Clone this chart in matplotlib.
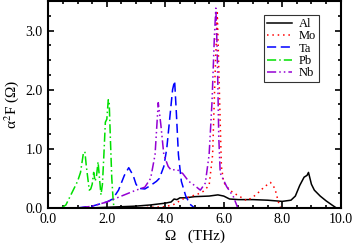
import matplotlib
matplotlib.use("Agg")
import matplotlib.pyplot as plt
from matplotlib.ticker import MultipleLocator, FormatStrFormatter

plt.rcParams['font.family'] = ['Liberation Serif', 'DejaVu Serif']
plt.rcParams['mathtext.fontset'] = 'stix'

al_x = [1.5, 2.0, 2.5, 3.0, 3.5, 4.0, 4.2, 4.3, 4.4, 4.5, 4.7, 5.0, 5.5, 5.8, 6.0, 6.2, 6.5, 7.0, 7.5, 8.0, 8.3, 8.45, 8.6, 8.75, 8.85, 8.9, 9.0, 9.1, 9.3, 9.5, 9.7, 9.85]
al_y = [0.0, 0.01, 0.02, 0.03, 0.05, 0.08, 0.1, 0.15, 0.14, 0.17, 0.17, 0.19, 0.2, 0.22, 0.2, 0.15, 0.14, 0.14, 0.13, 0.11, 0.13, 0.2, 0.38, 0.52, 0.55, 0.6, 0.4, 0.3, 0.2, 0.12, 0.05, 0.0]

mo_x = [3.0, 3.5, 4.0, 4.3, 4.6, 4.9, 5.1, 5.3, 5.5, 5.62, 5.7, 5.78, 5.85, 5.92, 6.0, 6.2, 6.45, 6.8, 7.1, 7.4, 7.6, 7.75, 7.87, 7.95]
mo_y = [0.0, 0.01, 0.02, 0.06, 0.15, 0.2, 0.23, 0.28, 0.38, 0.9, 2.2, 3.3, 2.0, 0.7, 0.43, 0.3, 0.22, 0.12, 0.22, 0.36, 0.43, 0.33, 0.1, 0.0]

ta_x = [1.0, 1.5, 2.0, 2.2, 2.4, 2.6, 2.75, 2.9, 3.0, 3.1, 3.3, 3.5, 3.7, 3.8, 3.95, 4.05, 4.15, 4.25, 4.32, 4.38, 4.45, 4.55, 4.7, 4.85, 5.0]
ta_y = [0.0, 0.03, 0.1, 0.15, 0.3, 0.55, 0.68, 0.55, 0.4, 0.33, 0.32, 0.38, 0.45, 0.5, 0.7, 1.0, 1.5, 2.0, 2.15, 1.6, 0.9, 0.45, 0.2, 0.06, 0.0]

pb_x = [0.45, 0.6, 0.8, 1.0, 1.1, 1.2, 1.25, 1.3, 1.4, 1.45, 1.5, 1.55, 1.6, 1.65, 1.7, 1.75, 1.8, 1.85, 1.9, 1.95, 2.0, 2.05, 2.08, 2.12, 2.17, 2.22, 2.25]
pb_y = [0.0, 0.05, 0.25, 0.45, 0.6, 0.93, 0.95, 0.7, 0.3, 0.32, 0.4, 0.6, 0.45, 0.55, 0.78, 0.5, 0.22, 0.4, 0.9, 1.45, 1.5, 1.83, 1.8, 1.2, 0.5, 0.1, 0.0]

nb_x = [1.1, 1.5, 2.0, 2.5, 3.0, 3.3, 3.5, 3.65, 3.76, 3.85, 3.95, 4.1, 4.2, 4.4, 4.6, 4.8, 5.0, 5.2, 5.37, 5.5, 5.6, 5.68, 5.73, 5.78, 5.83, 5.88, 6.1, 6.33, 6.48]
nb_y = [0.0, 0.03, 0.1, 0.2, 0.3, 0.35, 0.5, 0.9, 1.78, 1.4, 0.9, 0.7, 0.64, 0.65, 0.58, 0.45, 0.38, 0.3, 0.42, 0.9, 1.8, 2.9, 3.38, 2.6, 1.2, 0.59, 0.36, 0.19, 0.0]

fig = plt.figure(figsize=(3.53, 2.44), dpi=100)
ax = fig.add_axes([0.137, 0.148, 0.828, 0.848])

ax.plot(al_x, al_y, color='black', lw=1.1, ls='-', label='Al')
ax.plot(mo_x, mo_y, color='red', lw=1.1, ls=(0, (1, 2.5)), label='Mo')
ax.plot(ta_x, ta_y, color='blue', lw=1.1, ls=(0, (6, 3)), label='Ta')
ax.plot(pb_x, pb_y, color='#00e000', lw=1.1, ls=(0, (6, 2, 1, 2)), label='Pb')
ax.plot(nb_x, nb_y, color='#9400d3', lw=1.1, ls=(0, (6, 2, 1, 2, 1, 2)), label='Nb')

ax.set_xlim(0, 10)
ax.set_ylim(0, 3.5)
ax.xaxis.set_major_locator(MultipleLocator(2))
ax.xaxis.set_minor_locator(MultipleLocator(0.5))
ax.yaxis.set_major_locator(MultipleLocator(1))
ax.yaxis.set_minor_locator(MultipleLocator(0.25))
ax.xaxis.set_major_formatter(FormatStrFormatter('%.1f'))
ax.yaxis.set_major_formatter(FormatStrFormatter('%.1f'))
ax.tick_params(which='both', direction='in', top=True, right=True, labelsize=10, width=1.2, pad=4)
ax.tick_params(which='major', length=4.5)
ax.tick_params(which='minor', length=2.5)
for s in ax.spines.values():
    s.set_linewidth(1.5)

ax.set_xlabel('Ω   (THz)', fontsize=11, labelpad=2)
ax.set_ylabel('α$^2$F (Ω)', fontsize=11, labelpad=3)

leg = ax.legend(loc='upper right', bbox_to_anchor=(0.926, 0.932), fontsize=9, frameon=True,
                fancybox=False, edgecolor='black', handlelength=2.0, labelspacing=0.02,
                borderpad=0.25, handletextpad=0.5, borderaxespad=0)
leg.get_frame().set_linewidth(0.8)

fig.savefig('out.png', dpi=100)
